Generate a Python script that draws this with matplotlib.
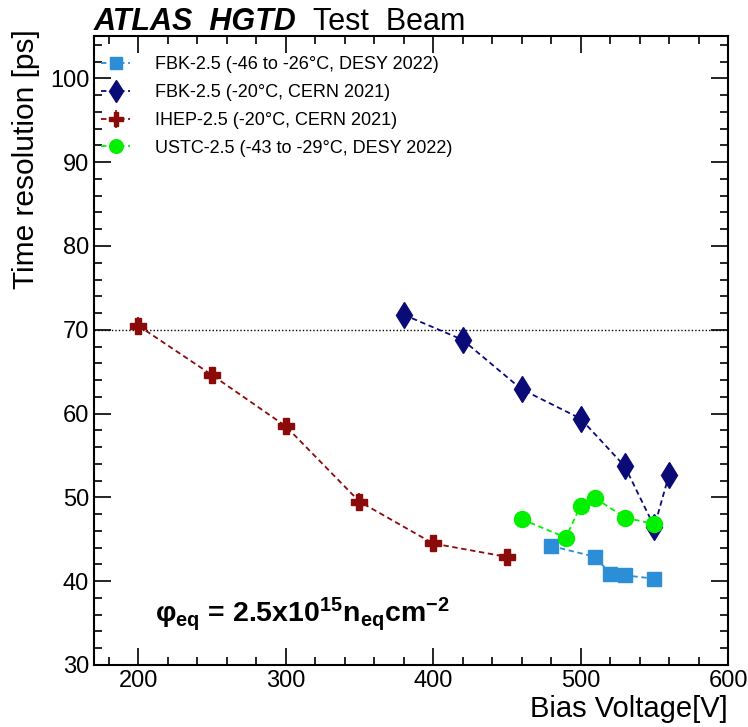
import numpy as np
import matplotlib
matplotlib.use('Agg')
import matplotlib.pyplot as plt

plt.rcParams['font.family'] = ['Liberation Sans', 'DejaVu Sans']
plt.rcParams['mathtext.fontset'] = 'custom'
plt.rcParams['mathtext.rm'] = 'Liberation Sans'
plt.rcParams['mathtext.it'] = 'Liberation Sans:italic'
plt.rcParams['mathtext.bf'] = 'Liberation Sans:bold'

# data
fbk_desy_v = [480, 510, 520, 530, 550]
fbk_desy_t = [44.2, 42.9, 40.9, 40.7, 40.3]

fbk_cern_v = [380, 420, 460, 500, 530, 550, 560]
fbk_cern_t = [71.8, 68.8, 62.9, 59.4, 53.7, 46.5, 52.7]

ihep_v = [200, 250, 300, 350, 400, 450]
ihep_t = [70.5, 64.6, 58.5, 49.5, 44.5, 42.9]
ihep_err = [1.0, 1.0, 1.0, 1.0, 1.0, 1.0]

ustc_v = [460, 490, 500, 510, 530, 550]
ustc_t = [47.4, 45.2, 49.0, 49.9, 47.6, 46.8]

labels = ['FBK-2.5 (-46 to -26°C, DESY 2022)',
          'FBK-2.5 (-20°C, CERN 2021)',
          'IHEP-2.5 (-20°C, CERN 2021)',
          'USTC-2.5 (-43 to -29°C, DESY 2022)']

fig = plt.figure(figsize=(7.48, 7.27), dpi=100)
ax = fig.add_axes([0.1257, 0.0853, 0.8476, 0.8645])

dash = (0, (3, 2))
h1, = ax.plot(fbk_desy_v, fbk_desy_t, ls=dash, lw=1.3, color='#2b8ed6', marker='s',
              ms=10, mec='#2b8ed6', mfc='#2b8ed6', zorder=3)
h2, = ax.plot(fbk_cern_v, fbk_cern_t, ls=dash, lw=1.3, color='#0b0b78', marker='d',
              ms=13, mec='#0b0b78', mfc='#0b0b78', zorder=3)
h3 = ax.errorbar(ihep_v, ihep_t, yerr=ihep_err, ls=dash, lw=1.3, color='#8b0a0a',
                 marker='P', ms=12, mec='#8b0a0a', mfc='#8b0a0a', elinewidth=1.2,
                 capsize=0, zorder=3)
h4, = ax.plot(ustc_v, ustc_t, ls=dash, lw=1.3, color='#00f000', marker='o',
              ms=11.5, mec='#00f000', mfc='#00f000', zorder=4)

ax.axhline(70, color='black', ls=(0, (1, 1.5)), lw=1.0, zorder=1)

ax.set_xlim(170, 600)
ax.set_ylim(30, 105)
ax.set_xticks([200, 300, 400, 500, 600])
ax.set_xticks(np.arange(180, 601, 20), minor=True)
ax.set_yticks([30, 40, 50, 60, 70, 80, 90, 100])
ax.set_yticks(np.arange(30, 105, 2), minor=True)
ax.tick_params(which='both', direction='in', top=True, right=True, labelsize=17)
ax.tick_params(which='major', length=12, width=1.2)
ax.tick_params(which='minor', length=6, width=1.2)
for s in ax.spines.values():
    s.set_linewidth(1.5)

ax.set_xlabel('Bias Voltage[V]', fontsize=21, loc='right', labelpad=2)
ax.set_ylabel('Time resolution [ps]', fontsize=21.5, loc='top')
ax.yaxis.set_label_coords(-0.085, 1.012)

leg = ax.legend([h1, h2, h3, h4], labels, loc='upper left', frameon=False,
                bbox_to_anchor=(0.0, 0.98), borderaxespad=0,
                fontsize=13, handlelength=1.6, handletextpad=1.4,
                labelspacing=0.6, markerscale=0.85, numpoints=1)

ax.text(0.096, 0.068, r'$\mathbf{φ_{eq}}$ = 2.5x10$^{\mathbf{15}}$n$_{\mathbf{eq}}$cm$^{\mathbf{-2}}$',
        transform=ax.transAxes, fontsize=20.5, fontweight='bold')

fig.text(0.125, 0.9587, 'ATLAS  HGTD', fontsize=22, fontweight='bold', style='italic')
fig.text(0.4185, 0.9587, 'Test  Beam', fontsize=22)

plt.savefig('out.png', dpi=100)
